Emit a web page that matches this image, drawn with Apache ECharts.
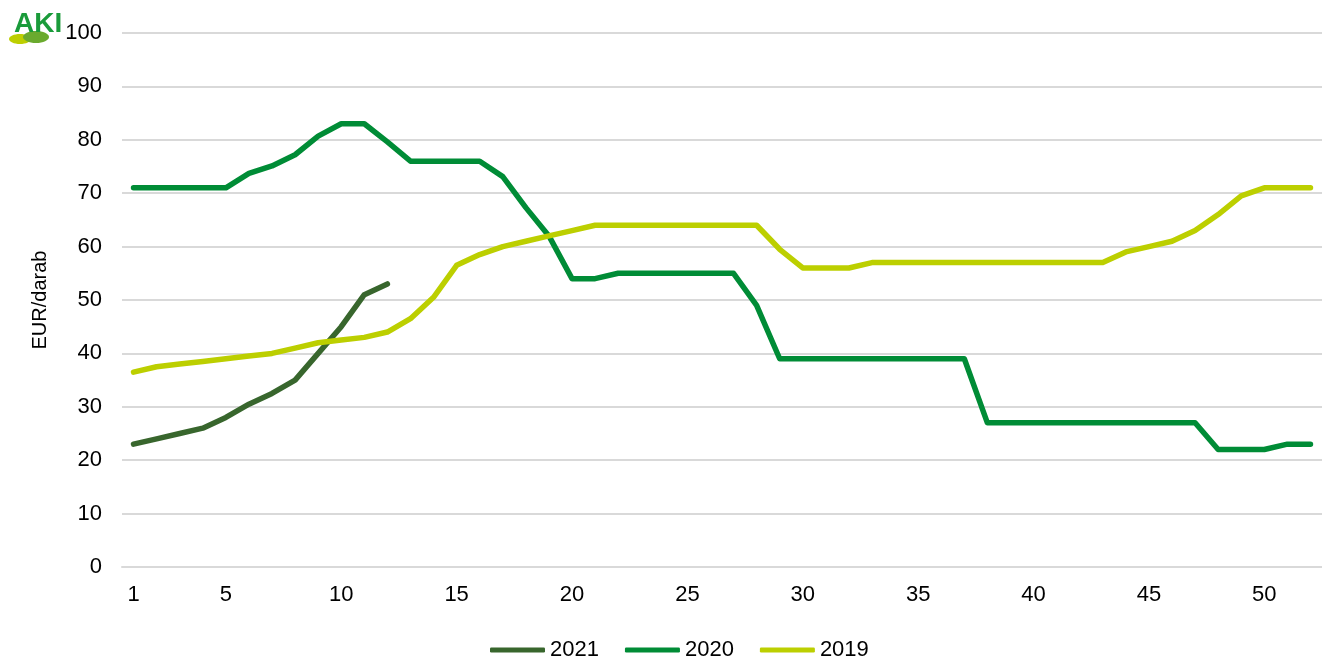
<!DOCTYPE html>
<html>
<head>
<meta charset="utf-8">
<script src="https://cdn.jsdelivr.net/npm/echarts@6/dist/echarts.min.js"></script>
<style>
  html, body { margin: 0; padding: 0; background: #fff; }
  #chart { width: 1322px; height: 657px; }
</style>
</head>
<body>
<div id="chart"></div>
<script>
// hetek
const weeks = Array.from({ length: 52 }, (_, i) => String(i + 1))

const data2021 = [23, 24, 25, 26, 28, 30.5, 32.5, 35, 40, 45, 51, 53]
const data2020 = [71, 71, 71, 71, 71, 73.7, 75.1, 77.2, 80.7, 83, 83, 79.6, 76, 76, 76, 76, 73.1, 67.3, 62, 54, 54, 55, 55, 55, 55, 55, 55, 49, 39, 39, 39, 39, 39, 39, 39, 39, 39, 27, 27, 27, 27, 27, 27, 27, 27, 27, 27, 22, 22, 22, 23, 23]
const data2019 = [36.5, 37.5, 38, 38.5, 39, 39.5, 40, 41, 42, 42.5, 43, 44, 46.5, 50.5, 56.5, 58.5, 60, 61, 62, 63, 64, 64, 64, 64, 64, 64, 64, 64, 59.5, 56, 56, 56, 57, 57, 57, 57, 57, 57, 57, 57, 57, 57, 57, 59, 60, 61, 63, 66, 69.5, 71, 71, 71]

const myChart = echarts.init(document.getElementById('chart'))

const font = 'Liberation Sans, Arial, sans-serif'

function lineSeries(name, data, color) {
  return {
    name: name,
    type: 'line',
    data: data,
    symbol: 'none',
    lineStyle: { color: color, width: 5.5, cap: 'round', join: 'round' },
    itemStyle: { color: color },
    emphasis: { disabled: true },
    animation: false
  }
}

const option = {
  backgroundColor: '#fff',
  animation: false,
  grid: { left: 122, right: -2, top: 33, bottom: 90 },
  legend: {
    top: 634,
    left: 485,
    icon: 'roundRect',
    itemWidth: 55,
    itemHeight: 5,
    itemGap: 26,
    textStyle: { fontFamily: font, fontSize: 22, color: '#000' },
    data: ['2021', '2020', '2019']
  },
  xAxis: {
    type: 'category',
    data: weeks,
    boundaryGap: true,
    axisLine: { lineStyle: { color: '#d9d9d9', width: 2 } },
    axisTick: { show: false },
    axisLabel: {
      interval: (idx, val) => val === '1' || Number(val) % 5 === 0,
      fontFamily: font,
      fontSize: 22,
      color: '#000',
      margin: 17
    }
  },
  yAxis: {
    type: 'value',
    min: 0,
    max: 100,
    interval: 10,
    name: 'EUR/darab',
    nameLocation: 'middle',
    nameGap: 72,
    nameTextStyle: { fontFamily: font, fontSize: 20, color: '#000' },
    axisLine: { show: false },
    axisTick: { show: false },
    splitLine: { lineStyle: { color: '#d9d9d9', width: 2 } },
    axisLabel: { fontFamily: font, fontSize: 22, color: '#000', margin: 20 }
  },
  // logó
  graphic: [
    {
      type: 'ellipse',
      shape: { cx: 20, cy: 39, rx: 11, ry: 5 },
      style: { fill: '#bdcf00' }
    },
    {
      type: 'ellipse',
      shape: { cx: 36, cy: 37, rx: 13, ry: 6 },
      style: { fill: '#6aaa2e' }
    },
    {
      type: 'text',
      left: 14,
      top: 10,
      style: {
        text: 'AKI',
        font: 'bold 28px Liberation Sans, Arial, sans-serif',
        fill: '#1a9b3a'
      }
    }
  ],
  series: [
    lineSeries('2021', data2021, '#38662d'),
    lineSeries('2020', data2020, '#008c36'),
    lineSeries('2019', data2019, '#bccf00')
  ]
}

myChart.setOption(option)
</script>
</body>
</html>
